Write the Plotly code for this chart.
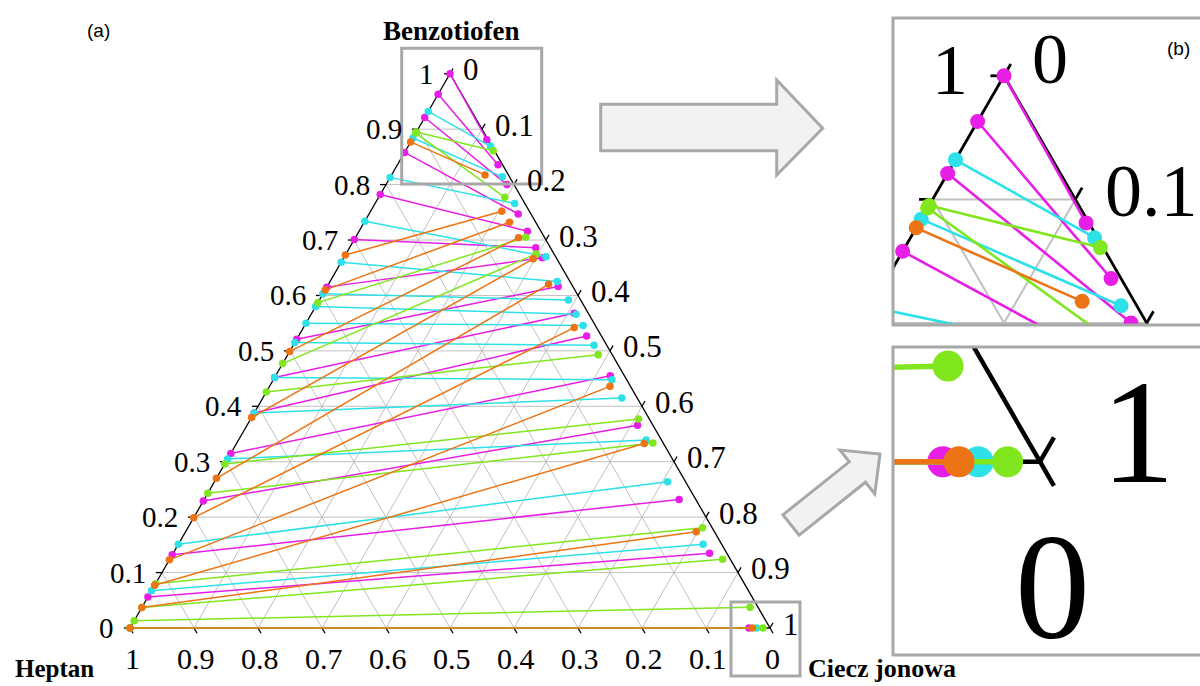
import numpy as np
import plotly.graph_objects as go

W, H = 1200, 686
SQ = np.sqrt(3) / 2

# ---------------- data ----------------
tick_vals = [0, 0.1, 0.2, 0.3, 0.4, 0.5, 0.6, 0.7, 0.8, 0.9, 1]
tick_text = ["0", "0.1", "0.2", "0.3", "0.4", "0.5", "0.6", "0.7", "0.8", "0.9", "1"]
grid_vals = [0.1, 0.2, 0.3, 0.4, 0.5, 0.6, 0.7, 0.8, 0.9]

# tie lines: left = heptane-rich phase (on Heptan-Benzotiofen side), right = IL-rich phase
magenta_left_B = [1.0, 0.963, 0.921, 0.858, 0.782, 0.701, 0.615, 0.521, 0.452, 0.388, 0.315, 0.229, 0.132, 0.056, 0.0]
magenta_right_B = [0.881, 0.836, 0.800, 0.747, 0.716, 0.686, 0.668, 0.616, 0.568, 0.527, 0.455, 0.366, 0.232, 0.135, 0.0]
magenta_right_C = [0.117, 0.157, 0.189, 0.233, 0.263, 0.291, 0.310, 0.361, 0.410, 0.450, 0.523, 0.610, 0.742, 0.838, 0.967]

cyan_left_B = [0.932, 0.884, 0.813, 0.734, 0.660, 0.603, 0.580, 0.550, 0.515, 0.452, 0.388, 0.305, 0.151, 0.067, 0.0]
cyan_right_B = [0.869, 0.814, 0.766, 0.670, 0.625, 0.592, 0.566, 0.546, 0.510, 0.448, 0.415, 0.339, 0.264, 0.151, 0.0]
cyan_right_C = [0.129, 0.175, 0.218, 0.315, 0.355, 0.389, 0.414, 0.435, 0.470, 0.529, 0.561, 0.637, 0.708, 0.820, 0.979]

lime_left_B = [0.895, 0.893, 0.587, 0.477, 0.426, 0.296, 0.243, 0.080, 0.037, 0.013, 0.0]
lime_right_B = [0.861, 0.777, 0.705, 0.675, 0.493, 0.377, 0.334, 0.181, 0.124, 0.0375, 0.0]
lime_right_C = [0.137, 0.197, 0.266, 0.297, 0.485, 0.606, 0.650, 0.804, 0.864, 0.950, 0.989]

orange_left_B = [0.877, 0.673, 0.610, 0.499, 0.380, 0.270, 0.199, 0.123, 0.077, 0.037, 0.0]
orange_right_B = [0.8175, 0.752, 0.732, 0.704, 0.666, 0.620, 0.542, 0.436, 0.333, 0.1735, 0.0]
orange_right_C = [0.146, 0.205, 0.227, 0.255, 0.297, 0.344, 0.423, 0.532, 0.637, 0.798, 0.9725]

series = [
    ("magenta", "#E61EE6", magenta_left_B, magenta_right_B, magenta_right_C),
    ("cyan", "#2EE1E8", cyan_left_B, cyan_right_B, cyan_right_C),
    ("lime", "#80E61E", lime_left_B, lime_right_B, lime_right_C),
    ("orange", "#EC7414", orange_left_B, orange_right_B, orange_right_C),
]


def tern(B, C):
    return C + B / 2.0, B * SQ


def seg_xy(pairs):
    xs, ys = [], []
    for (b1, c1), (b2, c2) in pairs:
        x1, y1 = tern(b1, c1)
        x2, y2 = tern(b2, c2)
        xs += [x1, x2, None]
        ys += [y1, y2, None]
    return xs, ys


fig = go.Figure()

TL = 0.0095  # tick length


def add_layer(xa, ya, gw, ew, lw, ms, grid=True):
    if grid:
        pairs = []
        for t in grid_vals:
            pairs.append(((t, 0), (t, 1 - t)))
            pairs.append(((0, t), (1 - t, t)))
            pairs.append(((0, 1 - t), (1 - t, 0)))
        gx, gy = seg_xy(pairs)
        fig.add_trace(go.Scatter(x=gx, y=gy, mode="lines", line=dict(color="#C0C0C0", width=gw),
                                 hoverinfo="skip", showlegend=False, xaxis=xa, yaxis=ya))
    # edges
    ex, ey = seg_xy([((0, 0), (0, 1)), ((0, 1), (1, 0)), ((1, 0), (0, 0))])
    # ticks
    tx, ty = [], []
    for t in tick_vals:
        x, y = tern(t, 0)
        tx += [x, x - TL, None]; ty += [y, y, None]
        x, y = tern(1 - t, t)
        tx += [x, x + TL * 0.5, None]; ty += [y, y + TL * SQ, None]
        x, y = tern(0, 1 - t)
        tx += [x, x + TL * 0.5, None]; ty += [y, y - TL * SQ, None]
    fig.add_trace(go.Scatter(x=ex + tx, y=ey + ty, mode="lines", line=dict(color="black", width=ew),
                             hoverinfo="skip", showlegend=False, xaxis=xa, yaxis=ya))
    for name, col, lB, rB, rC in series:
        pairs = [((b1, 0.0), (b2, c2)) for b1, b2, c2 in zip(lB, rB, rC)]
        sx, sy = seg_xy(pairs)
        fig.add_trace(go.Scatter(x=sx, y=sy, mode="lines+markers", name=name,
                                 line=dict(color=col, width=lw),
                                 marker=dict(color=col, size=ms, line=dict(width=0)),
                                 showlegend=False, xaxis=xa, yaxis=ya))


add_layer("x", "y", 1.0, 1.3, 1.5, 7.5)
add_layer("x2", "y2", 2.0, 2.8, 2.6, 15)
add_layer("x3", "y3", 2.0, 4.5, 5.5, 31, grid=False)

# -------- axes (pixel-calibrated) --------
def px2X(px, x0, sx, ox):
    return ((ox + (px - x0) / sx) - 130) / 640.0


def py2Y(py, y0, sy, oy):
    return (628 - (oy + (py - y0) / sy)) / 640.0


ax_common = dict(visible=False, showgrid=False, zeroline=False, fixedrange=True)
layout = dict(
    width=W, height=H, margin=dict(l=0, r=0, t=0, b=0),
    paper_bgcolor="white", plot_bgcolor="rgba(0,0,0,0)",
    showlegend=False,
    xaxis=dict(domain=[0, 1], range=[(0 - 130) / 640, (1200 - 130) / 640], **ax_common),
    yaxis=dict(domain=[0, 1], range=[(628 - 686) / 640, 628 / 640], **ax_common),
)
# inset top: magnification 2.23 around top corner
tX0, tY0 = 1004, 75.7
layout["xaxis2"] = dict(domain=[893 / W, 1], range=[px2X(893, tX0, 2.23, 450), px2X(1200, tX0, 2.23, 450)],
                        anchor="y2", **ax_common)
layout["yaxis2"] = dict(domain=[1 - 325 / H, 1 - 18 / H],
                        range=[py2Y(325, tY0, 2.23, 73.7), py2Y(18, tY0, 2.23, 73.7)],
                        anchor="x2", **ax_common)
# inset bottom: magnification 4.6 around IL corner
bX0, bY0 = 1040, 461.7
layout["xaxis3"] = dict(domain=[893 / W, 1], range=[px2X(893, bX0, 4.6, 770), px2X(1200, bX0, 4.6, 770)],
                        anchor="y3", **ax_common)
layout["yaxis3"] = dict(domain=[1 - 655 / H, 1 - 347 / H],
                        range=[py2Y(655, bY0, 4.6, 628), py2Y(347, bY0, 4.6, 628)],
                        anchor="x3", **ax_common)
fig.update_layout(**layout)

serif = "Liberation Serif, Times New Roman, serif"
ann = []
for t, lab in zip(tick_vals, tick_text):
    x, y = tern(t, 0)
    ann.append(dict(x=x, y=y, xref="x", yref="y", text=lab, showarrow=False, xanchor="right",
                    yanchor="middle", xshift=-14, yshift=0, font=dict(family=serif, size=29, color="black")))
    x, y = tern(1 - t, t)
    ann.append(dict(x=x, y=y, xref="x", yref="y", text=lab, showarrow=False, xanchor="left",
                    yanchor="middle", xshift=11, yshift=4, font=dict(family=serif, size=31, color="black")))
    x, y = tern(0, 1 - t)
    ann.append(dict(x=x, y=y, xref="x", yref="y", text=lab, showarrow=False, xanchor="center",
                    yanchor="middle", xshift=2, yshift=-30, font=dict(family=serif, size=30, color="black")))

# inset labels
x, y = tern(1, 0)
ann.append(dict(x=x, y=y, xref="x2", yref="y2", text="1", showarrow=False, xanchor="center", yanchor="middle",
                xshift=-54, yshift=6, font=dict(family=serif, size=72, color="black")))
ann.append(dict(x=x, y=y, xref="x2", yref="y2", text="0", showarrow=False, xanchor="center", yanchor="middle",
                xshift=46, yshift=17, font=dict(family=serif, size=72, color="black")))
x, y = tern(0.9, 0.1)
ann.append(dict(x=x, y=y, xref="x2", yref="y2", text="0.1", showarrow=False, xanchor="center", yanchor="middle",
                xshift=76, yshift=8, font=dict(family=serif, size=74, color="black")))
x, y = tern(0, 1)
ann.append(dict(x=x, y=y, xref="x3", yref="y3", text="1", showarrow=False, xanchor="center", yanchor="middle",
                xshift=98, yshift=30, font=dict(family=serif, size=148, color="black")))
ann.append(dict(x=x, y=y, xref="x3", yref="y3", text="0", showarrow=False, xanchor="center", yanchor="middle",
                xshift=12, yshift=-125, font=dict(family=serif, size=150, color="black")))


def pann(px, py, text, size, family, bold=False):
    return dict(x=px / W, y=1 - py / H, xref="paper", yref="paper", text=("<b>%s</b>" % text) if bold else text,
                showarrow=False, xanchor="center", yanchor="middle", font=dict(family=family, size=size, color="black"))


ann.append(pann(451, 31, "Benzotiofen", 27, serif, True))
ann.append(pann(54, 668, "Heptan", 25, serif, True))
ann.append(pann(882, 668, "Ciecz jonowa", 26, serif, True))
ann.append(pann(98, 31, "(a)", 19, "Liberation Sans, Arial"))
ann.append(pann(1178, 48, "(b)", 19, "Liberation Sans, Arial"))
fig.update_layout(annotations=ann)

# -------- decorations (boxes, arrows) in paper coords --------
GREY = "#A8A8A8"


def prect(x0, y0, x1, y1, fill=None):
    return dict(type="rect", xref="paper", yref="paper", x0=x0 / W, x1=x1 / W, y0=1 - y1 / H, y1=1 - y0 / H,
                line=dict(color=GREY, width=3), fillcolor=fill if fill else "rgba(0,0,0,0)", layer="above")


def ppath(pts):
    s = "M " + " L ".join("%.5f,%.5f" % (px / W, 1 - py / H) for px, py in pts) + " Z"
    return dict(type="path", xref="paper", yref="paper", path=s, line=dict(color=GREY, width=3),
                fillcolor="#F2F2F2", layer="above")


shapes = [
    prect(401.7, 48.3, 541.7, 184),
    prect(731, 602, 800, 676),
    prect(893, 18, 1215, 325),
    prect(893, 347, 1215, 655),
    ppath([(600.7, 104.3), (776.7, 104.3), (776.7, 80), (822.7, 128.3), (776.7, 175), (776.7, 150.7), (600.7, 150.7)]),
    ppath([(782.9, 514.8), (849.3, 461.8), (840, 450.1), (880, 454), (874.8, 493.9), (865.5, 482.2), (799.1, 535.2)]),
]
fig.update_layout(shapes=shapes)

fig.write_html("out.html")
